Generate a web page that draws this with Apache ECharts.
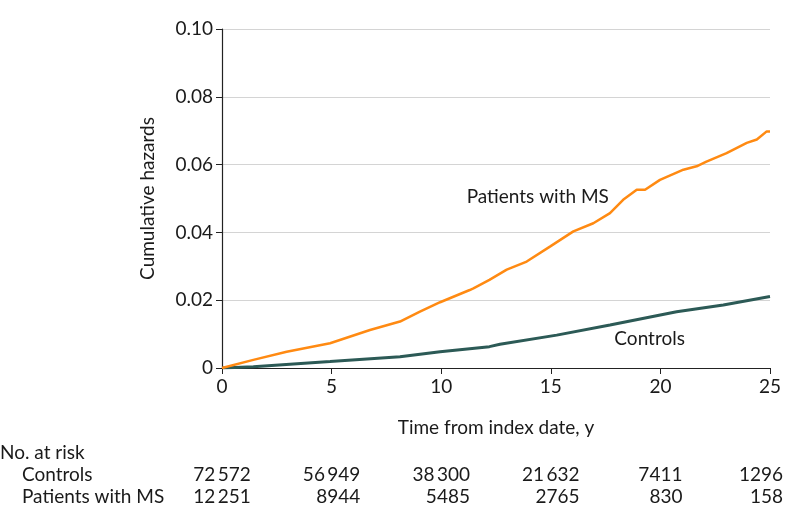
<!DOCTYPE html>
<html><head><meta charset="utf-8">
<script src="https://cdn.jsdelivr.net/npm/echarts@6/dist/echarts.min.js"></script>
<style>html,body{margin:0;padding:0;background:#fff}#c{width:794px;height:528px}</style>
</head><body><div id="c"></div>
<script>
const msTime = [0, 1.43, 2.95, 4.93, 6.75, 8.12, 9.03, 9.95, 11.3, 11.47, 12.2, 12.99, 13.9, 14.96, 16.03, 16.94, 17.7, 18.3, 18.92, 19.3, 19.98, 21.05, 21.65, 22.1, 23.02, 23.94, 24.4, 24.85, 25];
const msVals = [0, 0.0024, 0.0048, 0.0073, 0.0112, 0.0137, 0.0166, 0.0194, 0.0230, 0.0235, 0.0260, 0.0290, 0.0314, 0.0358, 0.0403, 0.0427, 0.0457, 0.0496, 0.0526, 0.0526, 0.0555, 0.0585, 0.0595, 0.0609, 0.0634, 0.0664, 0.0674, 0.0698, 0.0698];
const ctrlTime = [0, 1.43, 4.93, 8.12, 9.95, 12.2, 12.68, 15.27, 17.7, 20.74, 22.87, 25];
const ctrlVals = [0, 0.0004, 0.0019, 0.0033, 0.0048, 0.0063, 0.0070, 0.0097, 0.0127, 0.0166, 0.0186, 0.0211];
const riskTimes = [0, 5, 10, 15, 20, 25];
const riskControls = ['72\u2009572', '56\u2009949', '38\u2009300', '21\u2009632', '7411', '1296'];
const riskMS = ['12\u2009251', '8944', '5485', '2765', '830', '158'];
const yTicks = [0, 0.02, 0.04, 0.06, 0.08, 0.10];

const FONT = 'Lato';
const FS = 19;
const TXT = '#1a1a1a';
const chart = echarts.init(document.getElementById('c'));
const zip = (a, b) => a.map((v, i) => [v, b[i]]);

const option = {
  animation: false,
  grid: { left: 222, right: 24, top: 29, bottom: 160 },
  xAxis: {
    type: 'value', min: 0, max: 25, interval: 5,
    name: 'Time from index date, y', nameLocation: 'middle', nameGap: 50,
    nameTextStyle: { fontFamily: FONT, fontSize: FS, color: TXT },
    axisLine: { show: true, onZero: false, lineStyle: { color: '#222', width: 1.2 } },
    axisTick: { show: true, length: 6, lineStyle: { color: '#222' } },
    axisLabel: { fontFamily: FONT, fontSize: FS, color: TXT, margin: 9 },
    splitLine: { show: false }
  },
  yAxis: {
    type: 'value', min: 0, max: 0.1, interval: 0.02,
    name: 'Cumulative hazards', nameLocation: 'middle', nameGap: 65, nameRotate: 90,
    nameTextStyle: { fontFamily: FONT, fontSize: FS, color: TXT },
    axisLine: { show: true, lineStyle: { color: '#222', width: 1.2 } },
    axisTick: { show: true, length: 6, lineStyle: { color: '#222' } },
    axisLabel: { fontFamily: FONT, fontSize: FS, color: TXT, margin: 9,
      formatter: v => { const t = yTicks.find(x => Math.abs(x - v) < 1e-9); return t === 0 ? '0' : t.toFixed(2); } },
    splitLine: { show: true, lineStyle: { color: '#d4d4d4', width: 1 } }
  },
  series: [
    { type: 'line', data: zip(ctrlTime, ctrlVals), showSymbol: false, lineStyle: { color: '#2c5a56', width: 3 }, z: 3 },
    { type: 'line', data: zip(msTime, msVals), showSymbol: false, lineStyle: { color: '#ff8a12', width: 2.5 }, z: 4 }
  ]
};
chart.setOption(option);

const canvas = document.createElement('canvas');
const ctx = canvas.getContext('2d');
ctx.font = FS + 'px ' + FONT;
const g = [];
const style = (t, align) => ({ text: t, font: FS + 'px ' + FONT, fill: TXT, textAlign: align, textVerticalAlign: 'middle' });
const pMS = chart.convertToPixel({ gridIndex: 0 }, [17.65, 0.05]);
g.push({ type: 'text', x: pMS[0], y: pMS[1] - 2, style: style('Patients with MS', 'right') });
const pC = chart.convertToPixel({ gridIndex: 0 }, [17.9, 0.0085]);
g.push({ type: 'text', x: pC[0], y: pC[1], style: style('Controls', 'left') });
g.push({ type: 'text', x: 0, y: 453, style: style('No. at risk', 'left') });
g.push({ type: 'text', x: 22, y: 475, style: style('Controls', 'left') });
g.push({ type: 'text', x: 22, y: 497, style: style('Patients with MS', 'left') });
riskTimes.forEach((t, i) => {
  const px = chart.convertToPixel({ gridIndex: 0 }, [t, 0])[0];
  const w = ctx.measureText(riskControls[i]).width;
  let right = px + w / 2;
  if (right > 783) right = 783;
  g.push({ type: 'text', x: right, y: 475, style: style(riskControls[i], 'right') });
  g.push({ type: 'text', x: right, y: 497, style: style(riskMS[i], 'right') });
});
chart.setOption({ graphic: g });
</script></body></html>
